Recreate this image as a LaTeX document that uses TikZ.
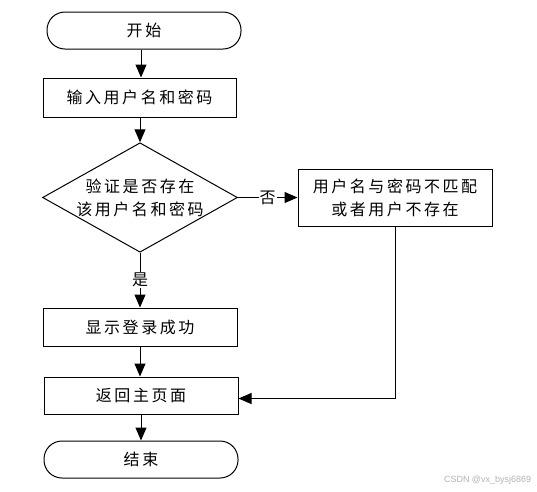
\documentclass[tikz,border=0pt]{standalone}
\usepackage{fontspec}
\setmainfont{Noto Sans CJK SC}[LetterSpace=16]
\newfontfamily\wmfont{Liberation Sans}
\usetikzlibrary{shapes.geometric,arrows.meta}
\begin{document}
\begin{tikzpicture}[x=1pt,y=-1pt,
  font=\fontsize{16}{23}\selectfont,
  line width=1pt,
  box/.style={draw, rectangle, inner sep=0pt, align=center},
  term/.style={draw, rectangle, rounded corners=18pt, inner sep=0pt},
  decision/.style={draw, diamond, inner sep=0pt, align=center, aspect=1.78},
  arr/.style={-{Triangle[length=13pt,width=11pt]}},
  lbl/.style={fill=white, inner sep=1pt}]
\useasboundingbox (0,0) rectangle (537,491);
\node[term, minimum width=194pt, minimum height=37pt] (start) at (144,30.5) {开始};
\node[box, minimum width=193pt, minimum height=39pt] (input) at (139.5,97.5) {输入用户名和密码};
\node[decision, minimum width=194pt, minimum height=109pt] (check) at (140,197.5) {验证是否存在\\该用户名和密码};
\node[box, minimum width=194pt, minimum height=57pt] (fail) at (395,197.5) {用户名与密码不匹配\\或者用户不存在};
\node[box, minimum width=194pt, minimum height=38pt] (ok) at (140,327) {显示登录成功};
\node[box, minimum width=194pt, minimum height=37pt] (back) at (141,395.5) {返回主页面};
\node[term, minimum width=194pt, minimum height=37pt] (end) at (141,459.5) {结束};
\node[text=black!30, font=\wmfont\fontsize{9}{10}\selectfont, anchor=east] (wm) at (535,480) {CSDN @vx\_bysj6869};

\draw[arr] (start.south -| 141,0) -- (input.north -| 141,0);
\draw[arr] (input.south -| check.north) -- (check.north);
\draw[arr] (check.east) -- node[lbl, pos=0.5] (no) {否} (fail.west);
\draw[arr] (check.south) -- node[lbl, pos=0.5] (yes) {是} (ok.north -| check.south);
\draw[arr] (ok.south) -- (back.north -| ok.south);
\draw[arr] (fail.south) |- ([yshift=-3pt]back.east);
\draw[arr] (back.south) -- (end.north -| back.south);
\end{tikzpicture}
\end{document}
